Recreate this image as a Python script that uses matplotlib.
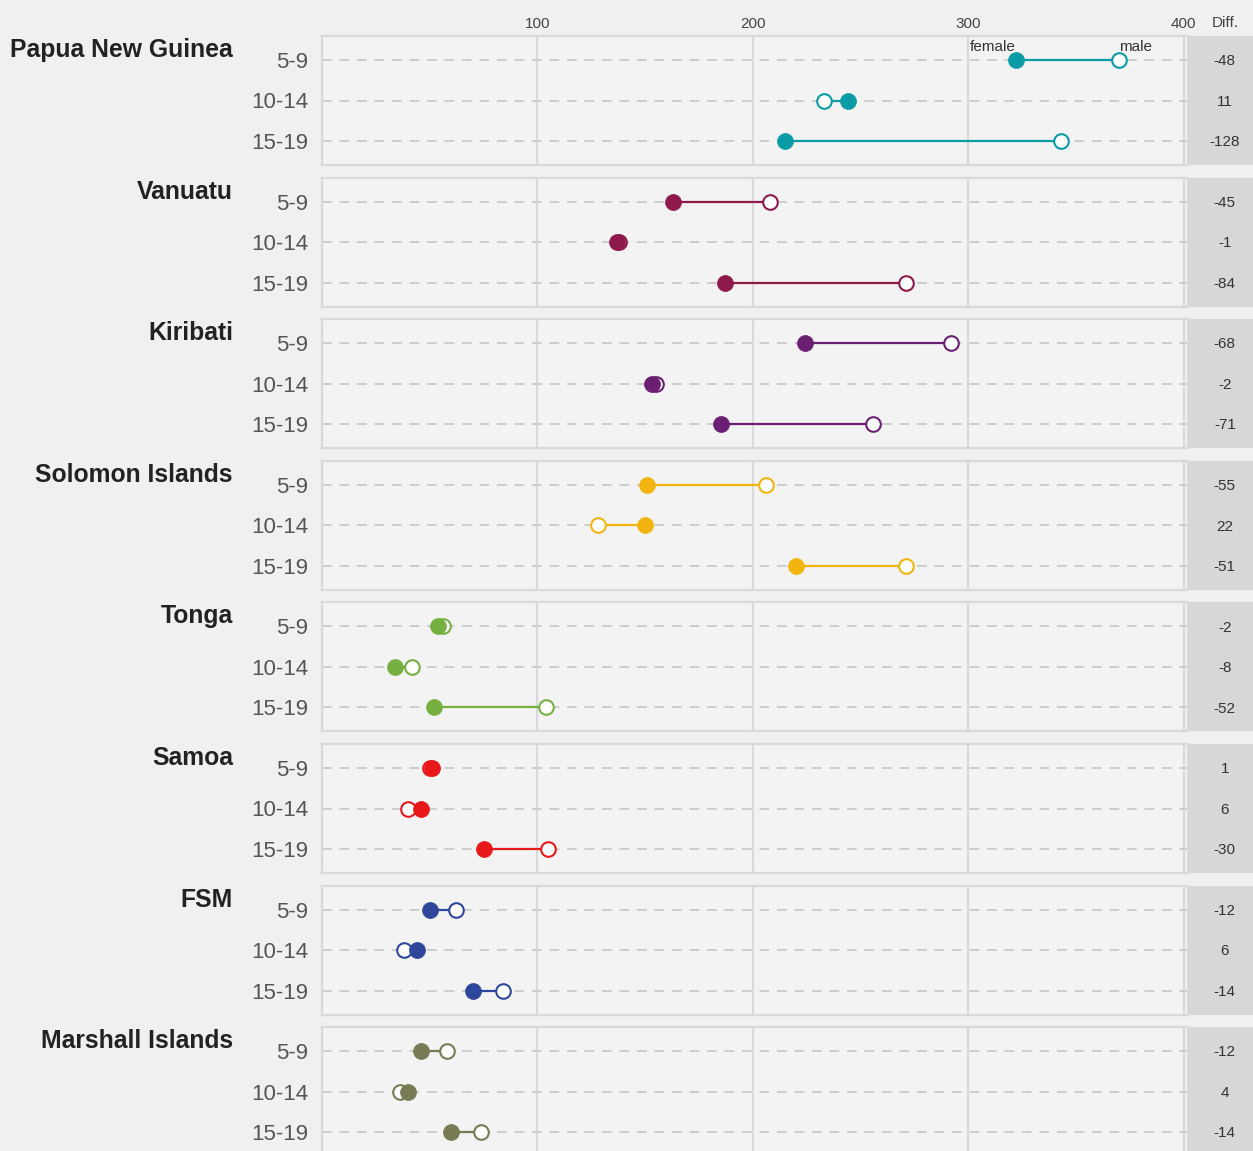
import matplotlib
matplotlib.use("Agg")
from matplotlib import pyplot

pyplot.rcParams['font.family'] = ['Liberation Sans', 'DejaVu Sans']

W, H = 1253, 1151
BG = "#f0f0f0"
PANEL_BG = "#f3f3f3"
GRID = "#d9d9d9"

countries = ["Papua New Guinea", "Vanuatu", "Kiribati", "Solomon Islands",
             "Tonga", "Samoa", "FSM", "Marshall Islands"]
ages = ["5-9", "10-14", "15-19"]
colors = ["#0a9ba6", "#8e1a4b", "#6b1f73", "#f2b50f",
          "#76b041", "#e8171a", "#2e479d", "#777a52"]

# values per country, rows = age groups
female = [[322, 244, 215],
          [163, 137, 187],
          [224, 153, 185],
          [151, 150, 220],
          [54, 34, 52],
          [51, 46, 75],
          [50, 44, 70],
          [46, 40, 60]]
male = [[370, 233, 343],
        [208, 138, 271],
        [292, 155, 256],
        [206, 128, 271],
        [56, 42, 104],
        [50, 40, 105],
        [62, 38, 84],
        [58, 36, 74]]
diff = [[-48, 11, -128],
        [-45, -1, -84],
        [-68, -2, -71],
        [-55, 22, -51],
        [-2, -8, -52],
        [1, 6, -30],
        [-12, 6, -14],
        [-12, 4, -14]]
xticks = [100, 200, 300, 400]

fig = pyplot.figure(figsize=(W / 100, H / 100), dpi=100, facecolor=BG)

PANEL_LEFT, PANEL_RIGHT = 322, 1188
DIFF_LEFT = 1189
TOP0, STEP, PANEL_H = 36, 141.6, 129

for i, name in enumerate(countries):
    top = TOP0 + i * STEP
    bottom = 1 - (top + PANEL_H) / H
    ax = fig.add_axes([PANEL_LEFT / W, bottom,
                       (PANEL_RIGHT - PANEL_LEFT) / W, PANEL_H / H])
    ax.set_facecolor(PANEL_BG)
    ax.set_xlim(0, 402)
    ax.set_ylim(2.59, -0.59)
    for s in ax.spines.values():
        s.set_color(GRID)
        s.set_linewidth(1.6)

    for xv in xticks:
        ax.axvline(xv, color=GRID, lw=1.6, zorder=1)
    for r in range(3):
        ax.axhline(r, color="#cccccc", lw=1.4, ls=(0, (5, 4)), zorder=1)

    c = colors[i]
    for r in range(3):
        ax.plot([female[i][r], male[i][r]], [r, r], color=c, lw=1.6, zorder=2)
    ax.plot(male[i], range(3), ls="none", marker="o", markersize=10.5,
            markerfacecolor="white", markeredgecolor=c, markeredgewidth=1.5, zorder=3)
    ax.plot(female[i], range(3), ls="none", marker="o", markersize=11.5,
            markerfacecolor=c, markeredgecolor=c, markeredgewidth=0.5, zorder=4)

    ax.set_yticks(range(3))
    ax.set_yticklabels(ages, fontsize=16, color="#555555")
    ax.tick_params(axis="y", length=0, pad=10)

    if i == 0:
        ax.set_xticks(xticks)
        ax.tick_params(axis="x", top=True, labeltop=True, bottom=False,
                       labelbottom=False, length=0, pad=3.5, labelsize=11,
                       labelcolor="#444444")
        ax.text(female[i][0], -0.22, "female", ha="right", va="baseline",
                fontsize=11, color="#333333", zorder=5)
        ax.text(male[i][0], -0.22, "male", ha="left", va="baseline",
                fontsize=11, color="#333333", zorder=5)
    else:
        ax.set_xticks([])

    # diff column
    dax = fig.add_axes([DIFF_LEFT / W, bottom, (W - DIFF_LEFT) / W, PANEL_H / H])
    dax.set_facecolor("#d7d7d7")
    dax.set_xlim(0, 1)
    dax.set_ylim(2.59, -0.59)
    dax.set_xticks([])
    dax.set_yticks([])
    for s in dax.spines.values():
        s.set_visible(False)
    for r in range(3):
        dax.text(0.56, r + 0.03, str(diff[i][r]), ha="center", va="center",
                 fontsize=11, color="#333333")

    fig.text(233 / W, 1 - (57 + i * STEP) / H, name, ha="right", va="baseline",
             fontsize=17.8, fontweight="bold", color="#222222")

fig.text(1225 / W, 1 - 23 / H, "Diff.", ha="center", va="center",
         fontsize=11, color="#444444")

fig.savefig("out.png", dpi=100, facecolor=BG)
